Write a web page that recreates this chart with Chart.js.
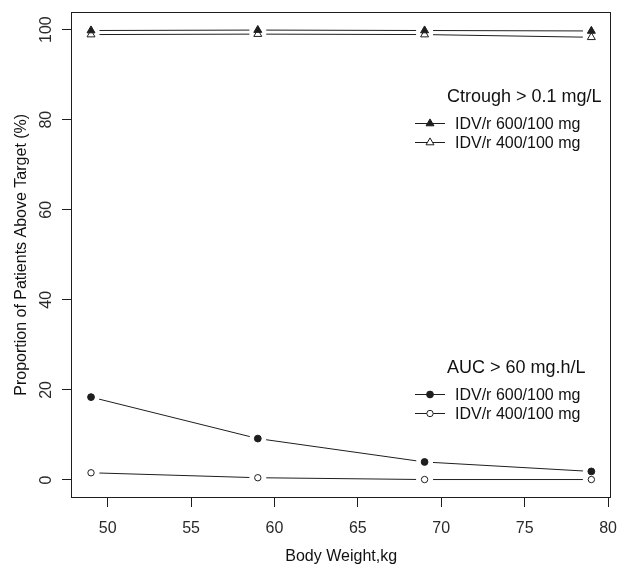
<!DOCTYPE html>
<html>
<head>
<meta charset="utf-8">
<script src="https://cdn.jsdelivr.net/npm/chart.js@4/dist/chart.umd.min.js"></script>
<style>
  html, body { margin: 0; padding: 0; background: #fff; }
  #wrap { position: relative; width: 629px; height: 573px; }
  #c { position: absolute; left: 0; top: 0; }
  .lg { position: absolute; white-space: nowrap; line-height: 1; color: #111;
        font-family: "Liberation Sans", Arial, sans-serif; }
  .t { font-size: 18px; }
  .e { font-size: 16px; }
</style>
</head>
<body>
<div id="wrap">
  <canvas id="c" width="629" height="573"></canvas>
  <div class="lg t" style="left:447px; top:87px;">Ctrough &gt; 0.1 mg/L</div>
  <div class="lg e" style="left:455px; top:115.5px;">IDV/r 600/100 mg</div>
  <div class="lg e" style="left:455px; top:134.5px;">IDV/r 400/100 mg</div>
  <div class="lg t" style="left:447px; top:358px;">AUC &gt; 60 mg.h/L</div>
  <div class="lg e" style="left:455px; top:387px;">IDV/r 600/100 mg</div>
  <div class="lg e" style="left:455px; top:406px;">IDV/r 400/100 mg</div>
</div>
<script>
// ---- data ----
const weights = [49, 59, 69, 79];
const ctrough600 = [99.8, 99.9, 99.8, 99.7];
const ctrough400 = [98.9, 99.0, 98.9, 98.3];
const auc600 = [18.4, 9.2, 4.0, 1.9];
const auc400 = [1.6, 0.5, 0.1, 0.1];
const xTicks = [50, 55, 60, 65, 70, 75, 80];
const yTicks = [0, 20, 40, 60, 80, 100];
const xTitle = 'Body Weight,kg';
const yTitle = 'Proportion of Patients Above Target (%)';

const INK = '#1e1e1e';
const FONT = '"Liberation Sans", Arial, sans-serif';

function pts(ys) { return weights.map((w, i) => ({ x: w, y: ys[i] })); }

const series = [
  { data: ctrough600, style: 'triangle', r: 4.6, fill: INK },
  { data: ctrough400, style: 'triangle', r: 4.6, fill: '#fff' },
  { data: auc600, style: 'circle', r: 3.4, fill: INK },
  { data: auc400, style: 'circle', r: 3.2, fill: '#fff' }
];

const datasets = [];
series.forEach(s => {
  datasets.push({ data: pts(s.data), showLine: true, borderColor: INK, borderWidth: 1,
    pointRadius: 0, order: 3, fill: false });
  datasets.push({ data: pts(s.data), showLine: false, pointRadius: 8.5, pointStyle: 'circle',
    pointBackgroundColor: '#fff', pointBorderWidth: 0, pointBorderColor: '#fff', order: 2 });
  datasets.push({ data: pts(s.data), showLine: false, pointRadius: s.r, pointStyle: s.style,
    pointBackgroundColor: s.fill, pointBorderColor: INK, pointBorderWidth: 1, order: 1 });
});

const boxAndLegend = {
  id: 'boxAndLegend',
  afterDraw(chart) {
    const ctx = chart.ctx, a = chart.chartArea;
    ctx.save();
    ctx.strokeStyle = INK; ctx.lineWidth = 1;
    ctx.strokeRect(Math.round(a.left) + 0.5, Math.round(a.top) + 0.5,
                   Math.round(a.right - a.left) - 1, Math.round(a.bottom - a.top) - 1);
    const items = [
      { y: 123.5, s: series[0] }, { y: 142.5, s: series[1] },
      { y: 394.5, s: series[2] }, { y: 413.5, s: series[3] }
    ];
    items.forEach(it => {
      ctx.beginPath(); ctx.moveTo(415, it.y); ctx.lineTo(445, it.y); ctx.stroke();
      ctx.fillStyle = it.s.fill; ctx.strokeStyle = INK; ctx.lineWidth = 1;
      Chart.helpers.drawPoint(ctx, { pointStyle: it.s.style, radius: it.s.r, rotation: 0, borderWidth: 1 }, 430, it.y);
    });
    ctx.restore();
  }
};

new Chart(document.getElementById('c'), {
  type: 'scatter',
  data: { datasets },
  options: {
    responsive: false,
    animation: false,
    events: [],
    devicePixelRatio: 1,
    layout: { padding: { top: 9, right: 11, left: 0, bottom: 0 } },
    plugins: { legend: { display: false }, tooltip: { enabled: false } },
    scales: {
      x: {
        type: 'linear', min: 47.8, max: 80.2,
        afterBuildTicks: s => { s.ticks = xTicks.map(v => ({ value: v })); },
        afterFit: s => { s.height = 75; },
        grid: { drawOnChartArea: false, drawTicks: true, tickLength: 9, tickColor: INK, tickWidth: 1 },
        border: { display: false },
        ticks: { font: { family: FONT, size: 16 }, color: '#2a2a2a', padding: 12, maxRotation: 0, autoSkip: false },
        title: { display: true, text: xTitle, font: { family: FONT, size: 16 }, color: '#111',
                 padding: { top: 0, bottom: 7 } }
      },
      y: {
        type: 'linear', min: -4, max: 104,
        afterBuildTicks: s => { s.ticks = yTicks.map(v => ({ value: v })); },
        afterFit: s => { s.width = 71; },
        grid: { drawOnChartArea: false, drawTicks: true, tickLength: 9, tickColor: INK, tickWidth: 1 },
        border: { display: false },
        ticks: { font: { family: FONT, size: 16 }, color: '#2a2a2a', padding: 2,
                 minRotation: 90, maxRotation: 90, crossAlign: 'center', autoSkip: false },
        title: { display: true, text: yTitle, font: { family: FONT, size: 16 }, color: '#111',
                 padding: { top: 12, bottom: 0 } }
      }
    }
  },
  plugins: [boxAndLegend]
});
</script>
</body>
</html>
